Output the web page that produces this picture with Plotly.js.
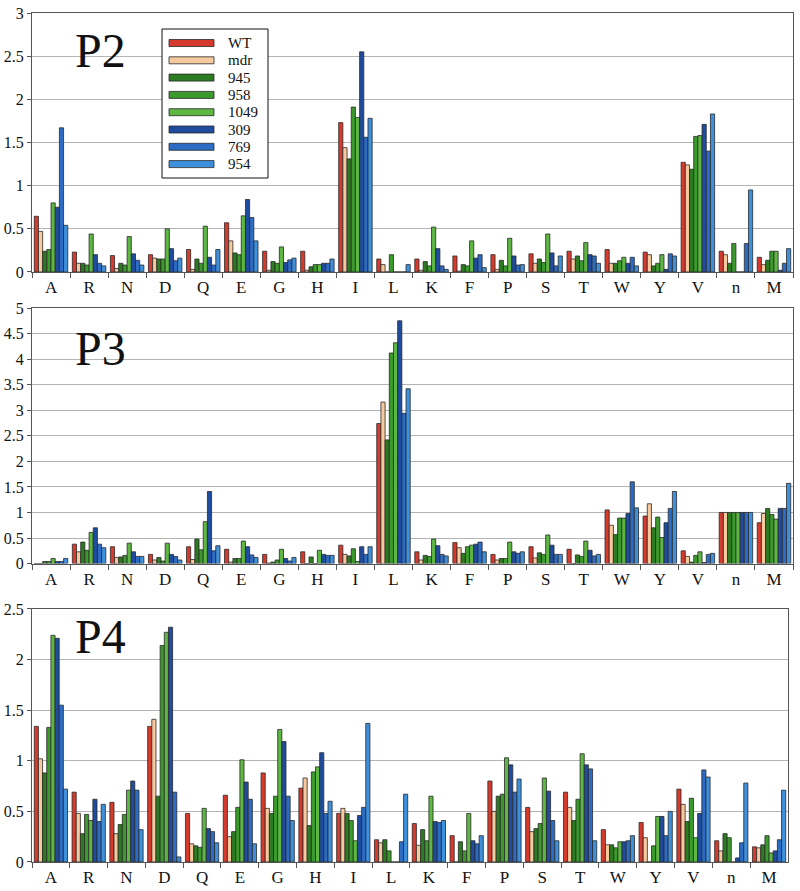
<!DOCTYPE html>
<html>
<head>
<meta charset="utf-8">
<script src="https://cdn.plot.ly/plotly-3.0.1.min.js"></script>
<style>html,body{margin:0;padding:0;background:#fff;}#chart{width:800px;height:891px;}</style>
</head>
<body>
<div id="chart"></div>
<script>
// Categories (amino acids) and series
const categories = ["A","R","N","D","Q","E","G","H","I","L","K","F","P","S","T","W","Y","V","n","M"];
const seriesNames = ["WT","mdr","945","958","1049","309","769","954"];
const panelNames = ["P2","P3","P4"];

// P2 values
const P2_WT   = [0.645,0.23,0.19,0.20,0.26,0.57,0.24,0.24,1.73,0.15,0.15,0.185,0.20,0.21,0.24,0.26,0.23,1.27,0.24,0.17];
const P2_mdr  = [0.47,0.10,0.04,0.16,0.03,0.36,0.02,0.02,1.44,0.085,0.02,0.01,0.03,0.10,0.15,0.10,0.20,1.24,0.20,0.085];
const P2_945  = [0.24,0.10,0.10,0.15,0.15,0.22,0.12,0.06,1.31,0,0.12,0.085,0.135,0.15,0.185,0.10,0.07,1.19,0.10,0.135];
const P2_958  = [0.26,0.08,0.08,0.15,0.10,0.20,0.10,0.085,1.91,0.20,0.07,0.07,0.07,0.11,0.13,0.13,0.10,1.57,0.33,0.24];
const P2_1049 = [0.80,0.44,0.41,0.50,0.53,0.65,0.29,0.085,1.79,0,0.52,0.36,0.39,0.44,0.34,0.17,0.20,1.58,0,0.24];
const P2_309  = [0.75,0.20,0.21,0.27,0.17,0.84,0.11,0.10,2.55,0,0.27,0.16,0.185,0.22,0.20,0.10,0.03,1.71,0,0.02];
const P2_769  = [1.67,0.10,0.135,0.13,0.08,0.63,0.14,0.10,1.56,0,0.07,0.20,0.08,0.07,0.185,0.17,0.21,1.40,0.33,0.10];
const P2_954  = [0.54,0.07,0.08,0.16,0.26,0.36,0.16,0.15,1.78,0.085,0.03,0.05,0.085,0.185,0.10,0.07,0.185,1.83,0.95,0.27];

// P3 values
const P3_WT   = [0,0.38,0.33,0.18,0.33,0.28,0.18,0.23,0.36,2.74,0.23,0.41,0.18,0.33,0.28,1.05,0.93,0.25,1,0.80];
const P3_mdr  = [0,0.23,0.12,0.07,0.08,0.03,0.01,0,0.18,3.16,0.07,0.31,0.07,0.11,0,0.75,1.17,0.14,1,0.98];
const P3_945  = [0.04,0.42,0.13,0.12,0.48,0.10,0.03,0.13,0.15,2.42,0.16,0.20,0.10,0.21,0.17,0.57,0.70,0.03,1,1.08];
const P3_958  = [0.04,0.26,0.16,0.05,0.27,0.10,0.07,0,0.29,4.12,0.14,0.33,0.10,0.18,0.14,0.89,0.91,0.16,1,0.96];
const P3_1049 = [0.10,0.61,0.40,0.40,0.82,0.44,0.28,0.26,0.04,4.32,0.48,0.36,0.42,0.56,0.44,0.89,0.51,0.23,1,0.87];
const P3_309  = [0.04,0.70,0.23,0.18,1.41,0.33,0.10,0.18,0.33,4.75,0.35,0.38,0.23,0.36,0.26,0.98,0.80,0.02,1,1.08];
const P3_769  = [0.04,0.38,0.14,0.14,0.25,0.17,0.05,0.16,0.18,2.94,0.18,0.42,0.20,0.18,0.15,1.60,1.08,0.18,1,1.08];
const P3_954  = [0.10,0.31,0.14,0.07,0.35,0.12,0.12,0.16,0.33,3.42,0.15,0.23,0.23,0.18,0.18,1.09,1.41,0.20,1,1.57];

// P4 values
const P4_WT   = [1.34,0.69,0.59,1.34,0.48,0.66,0.88,0.73,0.48,0.22,0.38,0.26,0.80,0.54,0.69,0.32,0.39,0.72,0.21,0.15];
const P4_mdr  = [1.02,0.48,0.28,1.41,0.18,0.25,0.53,0.83,0.53,0.19,0.165,0,0.50,0.30,0.54,0.17,0.24,0.57,0.11,0.14];
const P4_945  = [0.88,0.28,0.37,0.65,0.16,0.30,0.48,0.36,0.48,0.22,0.32,0.20,0.65,0.33,0.41,0.17,0,0.40,0.28,0.17];
const P4_958  = [1.33,0.47,0.47,2.14,0.145,0.54,0.65,0.89,0.41,0.11,0.21,0.11,0.67,0.38,0.62,0.14,0.16,0.63,0.24,0.26];
const P4_1049 = [2.24,0.41,0.71,2.27,0.53,1.01,1.31,0.94,0.21,0,0.65,0.48,1.03,0.83,1.07,0.20,0.45,0.24,0,0.09];
const P4_309  = [2.21,0.62,0.80,2.32,0.33,0.79,1.19,1.08,0.46,0,0.40,0.21,0.96,0.70,0.96,0.20,0.45,0.48,0.04,0.11];
const P4_769  = [1.55,0.40,0.71,0.69,0.30,0.62,0.65,0.48,0.54,0.20,0.39,0.18,0.69,0.41,0.92,0.21,0.26,0.91,0.19,0.22];
const P4_954  = [0.72,0.57,0.32,0.05,0.19,0.18,0.41,0.60,1.37,0.67,0.41,0.26,0.82,0.21,0.21,0.26,0.50,0.84,0.78,0.71];

const panelData = [
  [P2_WT,P2_mdr,P2_945,P2_958,P2_1049,P2_309,P2_769,P2_954],
  [P3_WT,P3_mdr,P3_945,P3_958,P3_1049,P3_309,P3_769,P3_954],
  [P4_WT,P4_mdr,P4_945,P4_958,P4_1049,P4_309,P4_769,P4_954]
];

const colors = ["#d63a2c","#f7c99e","#2c7a22","#3b9a2c","#5db742","#1f4c9e","#2c6cc4","#3d90dc"];
const serif = "Liberation Serif";

const traces = [];
panelData.forEach((series, p) => {
  const sfx = p === 0 ? "" : String(p + 1);
  series.forEach((vals, s) => {
    traces.push({
      type: "bar",
      name: seriesNames[s],
      x: categories,
      y: vals,
      xaxis: "x" + sfx,
      yaxis: "y" + sfx,
      showlegend: false,
      marker: {color: colors[s], line: {color: "#2a2a2a", width: 0.8}}
    });
  });
});

function xa(anchor, domain) {
  return {
    type: "category", anchor: anchor, domain: domain,
    tickson: "boundaries", ticks: "outside", ticklen: 5, tickcolor: "#555",
    showline: true, linecolor: "#555", linewidth: 1, mirror: true,
    showgrid: false, tickfont: {family: serif, size: 17, color: "#111"}
  };
}
function ya(anchor, domain, maxv) {
  return {
    anchor: anchor, domain: domain, range: [0, maxv], dtick: 0.5,
    showgrid: true, gridcolor: "#b4b4b4", gridwidth: 1,
    ticks: "outside", ticklen: 4, tickcolor: "#555",
    showline: true, linecolor: "#555", linewidth: 1, mirror: true,
    zeroline: false, tickfont: {family: serif, size: 16, color: "#111"}
  };
}

// pixel -> paper helpers (plot area: x 32..793, y 13..862)
const px = v => (v - 32) / 761;
const py = v => (862 - v) / 849;

// Custom legend (box, swatches, labels) for the P2 panel
const shapes = [{
  type: "rect", xref: "paper", yref: "paper",
  x0: px(162), x1: px(268), y0: py(178), y1: py(29),
  fillcolor: "#fff", line: {color: "#111", width: 1}, layer: "above"
}];
const annotations = [];
seriesNames.forEach((name, i) => {
  const cy = 43 + i * 17.3;
  shapes.push({
    type: "rect", xref: "paper", yref: "paper",
    x0: px(169), x1: px(214), y0: py(cy + 3.5), y1: py(cy - 3.5),
    fillcolor: colors[i], line: {color: "#2a2a2a", width: 0.8}, layer: "above"
  });
  annotations.push({
    text: name, xref: "paper", yref: "paper", x: px(227), y: py(cy),
    xanchor: "left", yanchor: "middle", showarrow: false,
    borderpad: 0, font: {family: serif, size: 15, color: "#111"}
  });
});

// Panel labels
[[100, 51], [100, 348], [100, 636]].forEach((pos, i) => {
  annotations.push({
    text: panelNames[i], xref: "paper", yref: "paper", x: px(pos[0]), y: py(pos[1]),
    xanchor: "center", yanchor: "middle", showarrow: false,
    font: {family: serif, size: 48, color: "#111"}
  });
});

const layout = {
  width: 800, height: 891,
  margin: {l: 32, r: 7, t: 13, b: 29},
  paper_bgcolor: "#fff", plot_bgcolor: "#fff",
  barmode: "group", bargap: 0.12, bargroupgap: 0,
  font: {family: serif, color: "#111"},
  showlegend: false,
  xaxis: xa("y", [0, 1]),
  yaxis: ya("x", [0.695, 1], 3),
  xaxis2: xa("y2", [0, 1]),
  yaxis2: ya("x2", [0.3515, 0.6525], 5),
  xaxis3: xa("y3", [0, 0.9934]),
  yaxis3: ya("x3", [0, 0.298], 2.5),
  shapes: shapes,
  annotations: annotations
};

Plotly.newPlot("chart", traces, layout, {displayModeBar: false, staticPlot: true});
</script>
</body>
</html>
